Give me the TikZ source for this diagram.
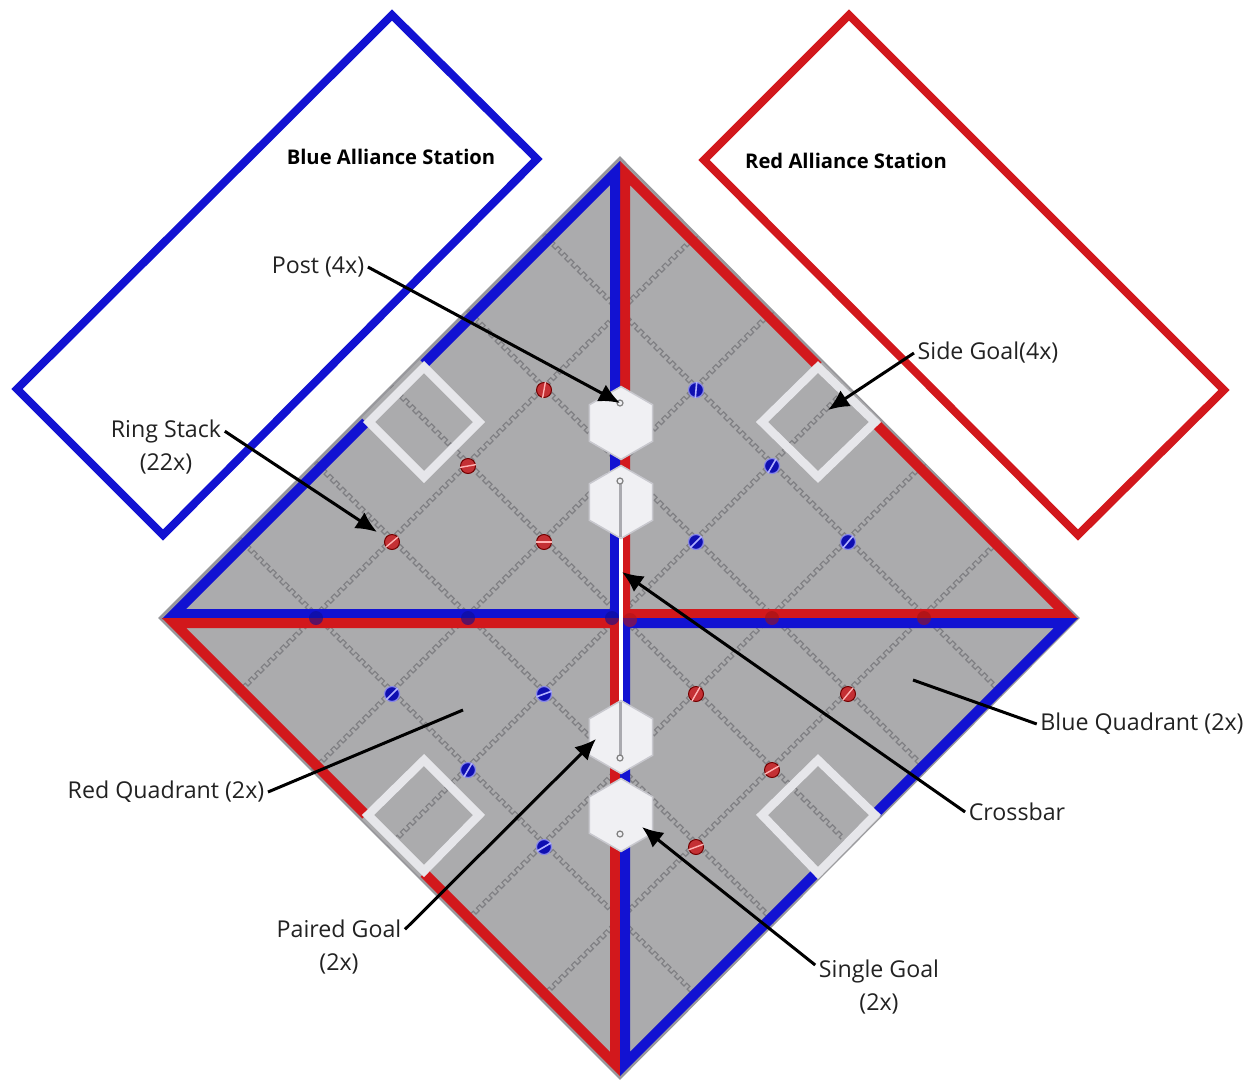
\documentclass[tikz,border=0pt]{standalone}
\usepackage{fontspec}
\setmainfont{Open Sans}
\usetikzlibrary{arrows.meta,shapes.geometric,decorations}
\definecolor{fieldgray}{HTML}{ABABAD}
\definecolor{edgegray}{HTML}{98989C}
\definecolor{seam}{HTML}{808084}
\definecolor{allianceblue}{HTML}{1212D2}
\definecolor{alliancered}{HTML}{D2181C}
\definecolor{ringred}{HTML}{C43034}
\definecolor{goalwhite}{HTML}{F0F0F3}
\definecolor{hexedge}{HTML}{C8C8CE}
\definecolor{squarewhite}{HTML}{E6E6EA}
\definecolor{labeltext}{HTML}{222222}
\pgfdeclaredecoration{meander}{a}{%
  \state{a}[width=9pt]{%
    \pgfpathlineto{\pgfpoint{0pt}{4pt}}%
    \pgfpathlineto{\pgfpoint{4.5pt}{4pt}}%
    \pgfpathlineto{\pgfpoint{4.5pt}{0pt}}%
    \pgfpathlineto{\pgfpoint{9pt}{0pt}}}%
  \state{final}{\pgfpathlineto{\pgfpointdecoratedpathlast}}}
\tikzset{
  station/.style={line width=8pt,miter limit=10,line join=miter},
  band/.style={line width=10pt,line join=miter,miter limit=10},
  seamline/.style={draw=seam,line width=1.2pt,decorate,decoration={meander}},
  sidegoal/.style={draw=squarewhite,line width=8.5pt,line join=miter},
  cover/.style={draw=fieldgray,line width=12pt},
  hexgoal/.style={regular polygon,regular polygon sides=6,shape border rotate=90,
    minimum size=73pt,inner sep=0pt,draw=hexedge,line width=1.5pt,fill=goalwhite},
  post/.style={circle,draw=gray,line width=1.2pt,fill=goalwhite,minimum size=6pt,inner sep=0pt},
  ringR/.style={circle,draw=red!45!black,line width=1pt,fill=ringred,minimum size=15pt,inner sep=0pt},
  ringB/.style={circle,draw=allianceblue!50!white,line width=1.2pt,fill=allianceblue!85!black,minimum size=15pt,inner sep=0pt},
  stripeR/.style={draw=red!30!white,line width=1.4pt},
  stripeB/.style={draw=blue!30!white,line width=1.6pt},
  lab/.style={font=\fontsize{23.2pt}{33pt}\selectfont,text=labeltext,inner sep=3.5pt,align=center},
  stationlab/.style={font=\fontsize{20.2pt}{24pt}\selectfont\bfseries,text=black,inner sep=0pt},
  pointer/.style={draw=black,line width=3pt,-{Latex[length=21pt,width=19pt]}},
  leader/.style={draw=black,line width=3pt},
}
\begin{document}
\begin{tikzpicture}[x=1pt,y=-1pt]
\useasboundingbox (0,0) rectangle (1252,1079);
\fill[white] (0,0) rectangle (1252,1079);
% stations
\draw[station,draw=allianceblue] (392,15) -- (537,159) -- (163,535) -- (17,389) -- cycle;
\draw[station,draw=alliancered] (849,15) -- (1224,390) -- (1078,535) -- (704,160) -- cycle;
% field
\filldraw[fill=fieldgray,draw=edgegray,line width=2.5pt,line join=miter] (620,158) -- (1078,618) -- (620,1078) -- (160,618) -- cycle;
% tile seams
\foreach \u in {-304,-152,0,152,304}{
  \draw[seamline] ({620+(\u-459)/2},{618+(\u+459)/2}) -- ({620+(\u+459)/2},{618+(\u-459)/2});
  \draw[seamline] ({620+(\u-459)/2},{618-(\u+459)/2}) -- ({620+(\u+459)/2},{618-(\u-459)/2});
}
% rings on the field
\foreach \x/\y/\a in {544/390/80,468/466/10,392/542/40,544/542/0,696/694/60,848/694/50,772/770/30,696/847/20}{
  \node[ringR] (rr\x-\y) at (\x,\y) {};
  \draw[stripeR] (rr\x-\y.\a) -- (rr\x-\y.\a+180);
}
\foreach \x/\y/\a in {696/390/85,772/466/60,696/542/45,848/542/50,392/694/45,544/694/20,468/770/60,544/847/30}{
  \node[ringB] (rb\x-\y) at (\x,\y) {};
  \draw[stripeB] (rb\x-\y.\a) -- (rb\x-\y.\a+180);
}
% quadrant bands
\draw[band,draw=alliancered] (625,173) -- (1066,614) -- (625,614) -- cycle;
\draw[band,draw=allianceblue] (615,173) -- (174,614) -- (615,614) -- cycle;
\draw[band,draw=alliancered] (615,1064) -- (174,623) -- (615,623) -- cycle;
\draw[band,draw=allianceblue] (625,1064) -- (1066,623) -- (625,623) -- cycle;
% rings under the cross, seen through it
\foreach \x/\y/\c in {316/618/allianceblue!70!black,468/618/allianceblue!70!black,772/618/alliancered!75!black,924/618/alliancered!75!black,612/618/allianceblue!70!black,630/620/alliancered!85!black}{
  \node[circle,fill=\c,minimum size=14pt,inner sep=0pt,opacity=.6] (mid\x) at (\x,\y) {};
}
% gaps for side goals
\draw[cover] (366,422) -- (424,364);
\draw[cover] (818,366) -- (876,424);
\draw[cover] (366,815) -- (424,873);
\draw[cover] (818,871) -- (876,813);
% side goals
\draw[sidegoal] (424,367) -- (479,422) -- (424,477) -- (369,422) -- cycle;
\draw[sidegoal] (818,367) -- (875,422) -- (818,477) -- (762,422) -- cycle;
\draw[sidegoal] (424,760) -- (479,815) -- (424,871) -- (368,815) -- cycle;
\draw[sidegoal] (818,760) -- (875,815) -- (818,873) -- (762,815) -- cycle;
% crossbar stripe
\draw[white,line width=3.5pt] (621,530) -- (621,710);
% hex goals
\node[hexgoal] (hexA) at (621,423) {};
\node[hexgoal] (hexB) at (621,502) {};
\node[hexgoal] (hexC) at (621,737) {};
\node[hexgoal] (hexD) at (621,815) {};
\draw[draw=hexedge!85!black,line width=3pt] (620.5,482) -- (620.5,537);
\draw[draw=hexedge!85!black,line width=3pt] (620.5,702) -- (620.5,757);
\node[post] (postA) at (620,403) {};
\node[post] (postB) at (620,481) {};
\node[post] (postC) at (620,758) {};
\node[post] (postD) at (620,834) {};
% labels
\node[stationlab] (bluestation) at (391,157) {Blue Alliance Station};
\node[stationlab] (redstation) at (846,161) {Red Alliance Station};
\node[lab] (lpost) at (318,267) {Post (4x)};
\node[lab] (lside) at (988,353) {Side Goal(4x)};
\node[lab] (lring) at (166,447) {Ring Stack\\(22x)};
\node[lab] (lblue) at (1142,724) {Blue Quadrant (2x)};
\node[lab] (lred) at (166,792) {Red Quadrant (2x)};
\node[lab] (lcross) at (1017,812) {Crossbar};
\node[lab] (lpaired) at (339,947) {Paired Goal\\(2x)};
\node[lab] (lsingle) at (879,987) {Single Goal\\(2x)};
% pointer ends
\coordinate (tpost) at (620,403);
\coordinate (tcross) at (622,572);
\coordinate (tside) at (828,410);
\coordinate (tring) at (377,532);
\coordinate (tred) at (463,710);
\coordinate (tblue) at (913,680);
\coordinate (tpaired) at (596,739);
\coordinate (tsingle) at (642,827);
% pointers
\draw[pointer] (lpost.east) -- (tpost);
\draw[pointer] (lside.west) -- (tside);
\draw[pointer] (lring.15) -- (tring);
\draw[leader] (lred.east) -- (tred);
\draw[leader] (lblue.west) -- (tblue);
\draw[pointer] (lcross.west) -- (tcross);
\draw[pointer] (lpaired.15) -- (tpaired);
\draw[pointer] (lsingle.161) -- (tsingle);
\end{tikzpicture}
\end{document}
